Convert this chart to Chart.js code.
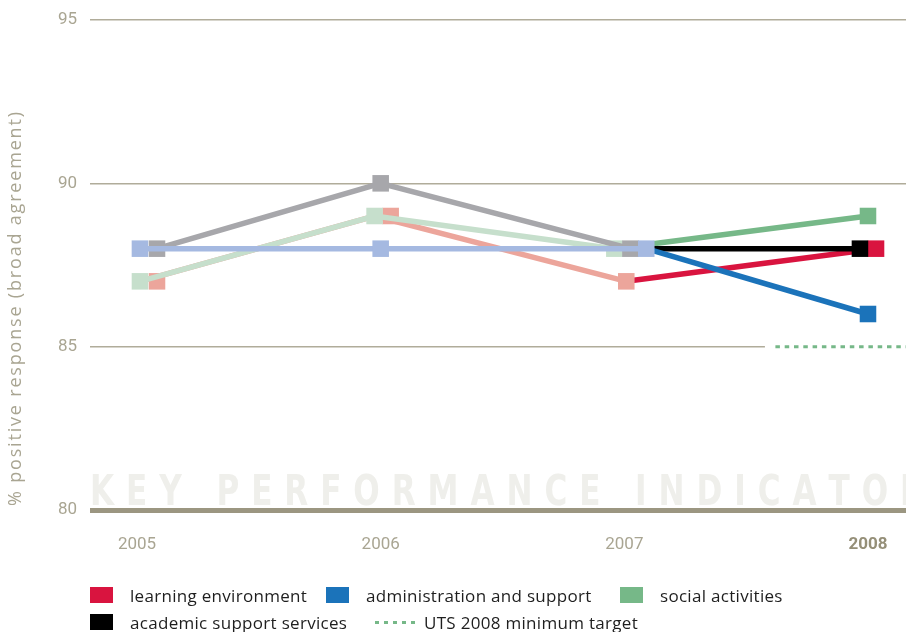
<!DOCTYPE html>
<html>
<head>
<meta charset="utf-8">
<script src="https://cdn.jsdelivr.net/npm/chart.js@4.4.1/dist/chart.umd.min.js"></script>
<style>
  body{margin:0;background:#fff;width:906px;height:632px;overflow:hidden;position:relative;font-family:"Open Sans",sans-serif}
  #chart{position:absolute;left:0;top:0}
  #legend{position:absolute;left:0;top:0;width:906px;height:632px;pointer-events:none}
  .item{position:absolute;height:22px;display:flex;align-items:center;font-size:17px;letter-spacing:0.3px;color:#1e1e1e;white-space:nowrap}
  .swatch{width:23px;height:16px;margin-right:17px}
  .dots{width:40px;height:3px;margin-right:9px;background:repeating-linear-gradient(90deg,#76b888 0 4px,transparent 4px 9px)}
</style>
</head>
<body>
<canvas id="chart" width="906" height="570"></canvas>
<div id="legend"></div>
<script>
// data
const years = ['2005', '2006', '2007', '2008'];
const seriesNames = ['learning environment', 'administration and support', 'social activities', 'academic support services'];
const learningEnv = [87, 89, 87, 88];
const adminSupport = [88, 88, 88, 86];
const socialActivities = [87, 89, 88, 89];
const academicSupport = [88, 90, 88, 88];
const targetName = 'UTS 2008 minimum target';
const targetValue = 85;
const yTicks = [80, 85, 90, 95];
const yTitle = '% positive response (broad agreement)';
const watermarkText = 'KEY PERFORMANCE INDICATOR';

// styling: full colour for 2008, pale for earlier years
const fullColors = ['#d9143f', '#1b73ba', '#76b888', '#000000'];
const paleColors = ['#eca59b', '#a5b9e1', '#c6dfcc', '#a7a7ab'];
// small sideways nudges (in year units) so stacked squares sit next to each other
const markNudges = [
  [0.082, 0.041, 0.008, 0.033],
  [0.012, 0, 0.09, 0],
  [0.012, -0.025, -0.041, 0],
  [0.082, 0, 0.025, -0.033]
];
// the lines mostly run square to square; the early learning line hides under the social one
const lineNudges = [
  [0.012, -0.025, 0.008, 0.033],
  [0.012, 0, 0.09, 0],
  [0.012, -0.025, -0.041, 0],
  [0.082, 0, 0.025, -0.033]
];
const drawOrder = [4, 1, 3, 2];
const xMin = -0.193, xMax = 3.156, targetFrom = 2.62, gapFrom = 2.577;

const allSeries = [learningEnv, adminSupport, socialActivities, academicSupport];
const last = years.length - 1;

const datasets = [];
allSeries.forEach((vals, s) => {
  datasets.push({
    label: seriesNames[s],
    data: vals.map((v, i) => ({x: i + lineNudges[s][i], y: v})),
    borderColor: paleColors[s],
    borderWidth: 5.5,
    borderCapStyle: 'butt',
    tension: 0,
    segment: { borderColor: c => c.p1DataIndex === last ? fullColors[s] : paleColors[s] },
    pointRadius: 0,
    order: drawOrder[s] * 2
  });
  datasets.push({
    label: seriesNames[s] + ' marks',
    data: vals.map((v, i) => ({x: i + markNudges[s][i], y: v})),
    showLine: false,
    pointStyle: 'rect',
    pointRadius: 11.7,
    pointBorderWidth: 0,
    pointBackgroundColor: vals.map((_, i) => i === last ? fullColors[s] : paleColors[s]),
    order: drawOrder[s] * 2 - 1
  });
});

// white break in the 85 gridline, then the dotted target
datasets.push({
  label: 'gap', data: [{x: gapFrom, y: targetValue}, {x: xMax, y: targetValue}],
  borderColor: '#ffffff', borderWidth: 4, pointRadius: 0, order: 20
});
datasets.push({
  label: targetName, data: [{x: targetFrom, y: targetValue}, {x: xMax, y: targetValue}],
  borderColor: '#76b888', borderWidth: 3, borderDash: [4.5, 4.8], pointRadius: 0, order: 19
});

// draws text one glyph at a time (optionally squeezed by sx) spread over a given length
function spreadText(ctx, text, x, y, span, sx = 1){
  const chars = [...text];
  const widths = chars.map(ch => ctx.measureText(ch).width * sx);
  const total = widths.reduce((a, b) => a + b, 0);
  const gap = (span - total) / (chars.length - 1);
  chars.forEach((ch, i) => {
    ctx.save();
    ctx.translate(x, y);
    ctx.scale(sx, 1);
    ctx.fillText(ch, 0, 0);
    ctx.restore();
    x += widths[i] + gap;
  });
}

const decorations = {
  id: 'decorations',
  beforeDraw(chart){
    const {ctx, chartArea, scales} = chart;
    const base = scales.y.getPixelForValue(80);
    ctx.save();
    ctx.font = 'bold 42px "DejaVu Sans", sans-serif';
    ctx.fillStyle = '#efefeb';
    ctx.textBaseline = 'alphabetic';
    spreadText(ctx, watermarkText, chartArea.left, base - 5, 834, 0.74);
    ctx.restore();

    // axis title, rotated, running up from the 80 line
    ctx.save();
    ctx.translate(16, base - 4);
    ctx.rotate(-Math.PI / 2);
    ctx.font = '18px "Open Sans", sans-serif';
    ctx.fillStyle = '#a9a592';
    ctx.textBaseline = 'middle';
    spreadText(ctx, yTitle, 0, 0, 394);
    ctx.restore();
  }
};

new Chart(document.getElementById('chart'), {
  type: 'line',
  data: { datasets },
  options: {
    responsive: false,
    animation: false,
    layout: { autoPadding: false, padding: { top: 20, left: 0, right: 0, bottom: 0 } },
    plugins: { legend: { display: false }, tooltip: { enabled: false } },
    scales: {
      x: {
        type: 'linear', min: xMin, max: xMax,
        afterBuildTicks: s => { s.ticks = years.map((_, i) => ({value: i})); },
        afterFit: s => { s.height = 60; s.paddingLeft = 0; s.paddingRight = 0; },
        grid: { display: false },
        border: { display: false },
        ticks: {
          padding: 17,
          callback: v => years[v],
          color: c => c.index === last ? '#958f78' : '#a9a592',
          font: c => ({family: 'Roboto', size: 17, weight: c.index === last ? 'bold' : 'normal'})
        }
      },
      y: {
        type: 'linear', min: 80, max: 95,
        afterBuildTicks: s => { s.ticks = yTicks.map(v => ({value: v})); },
        afterFit: s => { s.width = 90; s.paddingTop = 0; s.paddingBottom = 0; },
        grid: {
          drawTicks: false,
          color: c => c.tick && c.tick.value === 80 ? '#9b9681' : '#b0ac9a',
          lineWidth: c => c.tick && c.tick.value === 80 ? 5 : 1.5
        },
        border: { display: false },
        ticks: { padding: 13, color: '#a9a592', font: {family: 'Roboto', size: 17} }
      }
    }
  },
  plugins: [decorations]
});

// legend
const legendSlots = [[90, 595], [326, 595], [620, 595], [90, 622]];
const legendEl = document.getElementById('legend');
seriesNames.forEach((name, s) => {
  const it = document.createElement('div');
  it.className = 'item';
  it.style.left = legendSlots[s][0] + 'px';
  it.style.top = (legendSlots[s][1] - 11) + 'px';
  it.innerHTML = `<span class="swatch" style="background:${fullColors[s]}"></span><span>${name}</span>`;
  legendEl.appendChild(it);
});
const tgt = document.createElement('div');
tgt.className = 'item';
tgt.style.left = '375px';
tgt.style.top = (622 - 11) + 'px';
tgt.innerHTML = `<span class="dots"></span><span>${targetName}</span>`;
legendEl.appendChild(tgt);
</script>
</body>
</html>
